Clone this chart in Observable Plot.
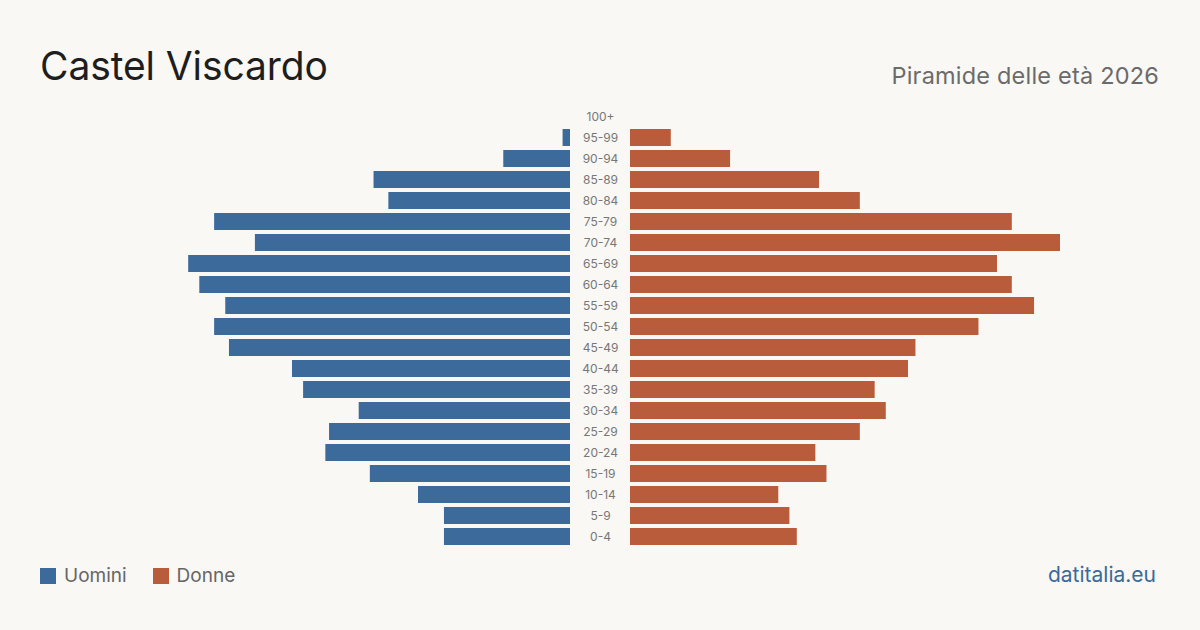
<!DOCTYPE html>
<html>
<head>
<meta charset="utf-8">
<script src="https://cdn.jsdelivr.net/npm/d3@7"></script>
<script src="https://cdn.jsdelivr.net/npm/@observablehq/plot@0.6"></script>
<style>
  html, body { margin: 0; padding: 0; background: #f9f8f4; }
  body { width: 1200px; height: 630px; position: relative; overflow: hidden; font-family: Inter, "Noto Sans", sans-serif; }
  #title { position: absolute; left: 40px; top: 46px; font-size: 39px; color: #1e1e1e; line-height: 1; letter-spacing: -0.1px; }
  #subtitle { position: absolute; right: 41px; top: 64px; font-size: 23.5px; color: #6b6b6b; line-height: 1; letter-spacing: 0.2px; }
  #chart { position: absolute; left: 0; top: 100px; display: flex; }
  #legend { position: absolute; left: 40px; top: 566px; font-size: 19px; color: #666; display: flex; align-items: center; line-height: 20px; }
  .sw { width: 16px; height: 16px; display: inline-block; margin-right: 8px; }
  .item { display: flex; align-items: center; margin-right: 26px; }
  #source { position: absolute; right: 44px; top: 565px; font-size: 21px; color: #3b6a9b; line-height: 20px; }
</style>
</head>
<body>
<div id="title">Castel Viscardo</div>
<div id="subtitle">Piramide delle età 2026</div>
<div id="chart"></div>
<div id="legend">
  <span class="item"><span class="sw" style="background:#3b6a9b"></span>Uomini</span>
  <span class="item"><span class="sw" style="background:#b95c3b"></span>Donne</span>
</div>
<div id="source">datitalia.eu</div>
<script>
const ageGroups = ["100+","95-99","90-94","85-89","80-84","75-79","70-74","65-69","60-64","55-59","50-54","45-49","40-44","35-39","30-34","25-29","20-24","15-19","10-14","5-9","0-4"];
const men   = [0, 2, 18, 53, 49, 96, 85, 103, 100, 93, 96, 92, 75, 72, 57, 65, 66, 54, 41, 34, 34];
const women = [0, 11, 27, 51, 62, 103, 116, 99, 103, 109, 94, 77, 75, 66, 69, 62, 50, 53, 40, 43, 45];

const colorMen = "#3b6a9b";
const colorWomen = "#b95c3b";
const maxV = 116;
const H = 455, mTop = 6, mBottom = 8;

const menData = ageGroups.map((a, i) => ({age: a, v: men[i]}));
const womenData = ageGroups.map((a, i) => ({age: a, v: women[i]}));

const yOpts = {domain: ageGroups, paddingInner: 0.19, paddingOuter: 0.095, axis: null};

const left = Plot.plot({
  width: 570, height: H, marginLeft: 140, marginRight: 0, marginTop: mTop, marginBottom: mBottom,
  x: {domain: [0, maxV], reverse: true, axis: null},
  y: yOpts,
  style: {background: "transparent"},
  marks: [Plot.barX(menData, {x: "v", y: "age", fill: colorMen})]
});

const mid = Plot.plot({
  width: 60, height: H, marginLeft: 0, marginRight: 0, marginTop: mTop, marginBottom: mBottom,
  x: {domain: [0, 1], axis: null},
  y: yOpts,
  style: {background: "transparent"},
  marks: [Plot.text(ageGroups, {x: () => 0.5, y: d => d, text: d => d, fill: "#777", fontSize: 12, fontFamily: "Inter, sans-serif"})]
});

const right = Plot.plot({
  width: 570, height: H, marginLeft: 0, marginRight: 140, marginTop: mTop, marginBottom: mBottom,
  x: {domain: [0, maxV], axis: null},
  y: yOpts,
  style: {background: "transparent"},
  marks: [Plot.barX(womenData, {x: "v", y: "age", fill: colorWomen})]
});

const c = document.getElementById("chart");
c.append(left, mid, right);
</script>
</body>
</html>
